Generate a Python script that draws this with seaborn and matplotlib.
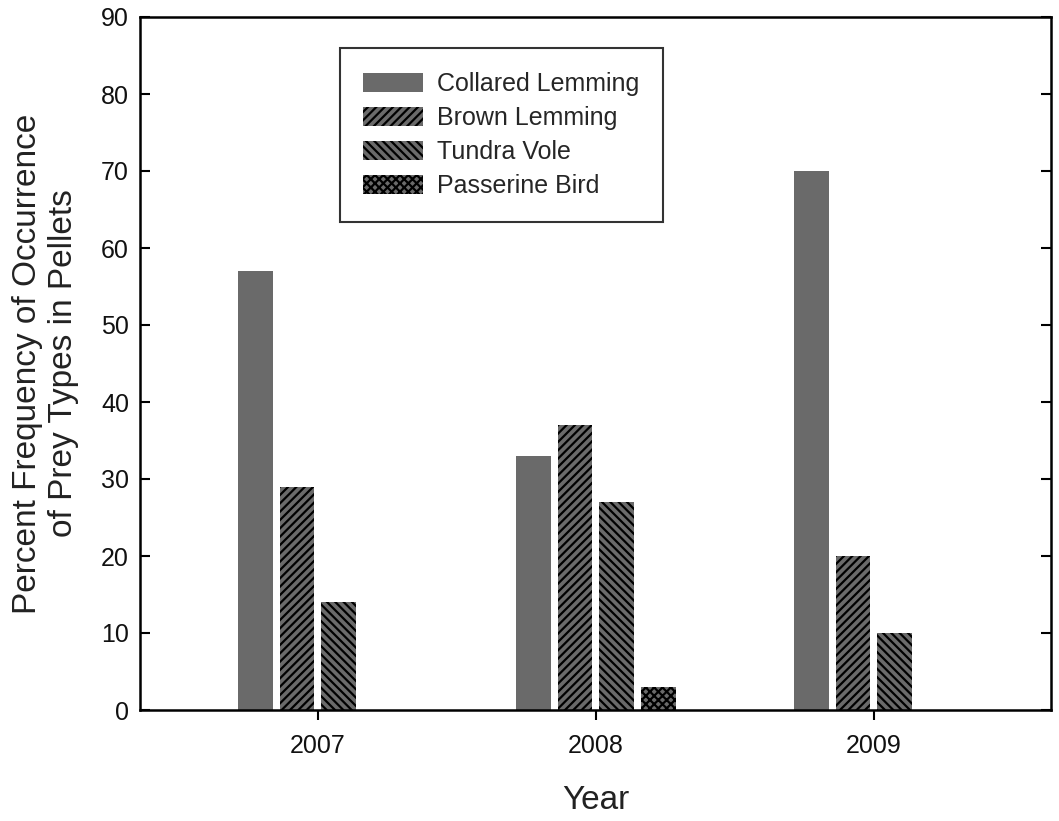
import pandas as pd
import numpy as np
import seaborn as sns
import matplotlib.pyplot as plt
from matplotlib.patches import Patch

years = ['2007', '2008', '2009']
prey = ['Collared Lemming', 'Brown Lemming', 'Tundra Vole', 'Passerine Bird']
collared = [57, 33, 70]
brown = [29, 37, 20]
tundra = [14, 27, 10]
passerine = [0, 3, 0]

df = pd.DataFrame({
    'Year': years * 4,
    'Prey': [p for p in prey for _ in years],
    'Percent': collared + brown + tundra + passerine,
})

sns.set_style('white')
plt.rcParams['font.family'] = ['Liberation Sans', 'DejaVu Sans']
plt.rcParams['hatch.linewidth'] = 1.6

fig = plt.figure(figsize=(10.59, 8.21), dpi=100)
ax = fig.add_axes([140 / 1059, 1 - 710 / 821, (1051 - 140) / 1059, (710 - 17) / 821])

grey = '#6a6a6a'
sns.barplot(data=df, x='Year', y='Percent', hue='Prey', hue_order=prey,
            palette=[grey] * 4, width=0.6, gap=0.17, saturation=1,
            errorbar=None, legend=False, ax=ax)

hatches = ['', '////', '\\\\\\\\', 'xxxx']
for cont, h in zip(ax.containers, hatches):
    for bar in cont:
        bar.set_hatch(h)
        bar.set_edgecolor('black' if h else grey)
        bar.set_linewidth(0)

ax.set_xlim(-0.64, 2.637)
ax.set_ylim(0, 90)
ax.set_yticks(range(0, 91, 10))

for s in ax.spines.values():
    s.set_color('black')
    s.set_linewidth(1.8)

ax.tick_params(axis='y', direction='in', length=7, width=1.5, labelsize=18,
               left=True, right=True, colors='black', pad=8)
ax.tick_params(axis='x', direction='out', length=7, width=1.5, labelsize=18,
               bottom=True, colors='black', pad=10)
for lab in ax.get_xticklabels() + ax.get_yticklabels():
    lab.set_color('#111111')

ax.set_xlabel('Year', fontsize=24, labelpad=20, color='#222222')
ax.set_ylabel('Percent Frequency of Occurrence\nof Prey Types in Pellets',
              fontsize=24, labelpad=16, color='#222222')

handles = [Patch(facecolor=grey, edgecolor='black' if h else grey,
                 hatch=h, linewidth=0, label=p) for p, h in zip(prey, hatches)]
leg = ax.legend(handles=handles, loc='upper left', bbox_to_anchor=(0.219, 0.955),
                fontsize=18, frameon=True, fancybox=False, edgecolor='black',
                handlelength=2.4, handleheight=0.8, borderpad=0.95,
                labelspacing=0.4, handletextpad=0.56, borderaxespad=0)
leg.get_frame().set_linewidth(1.5)

plt.savefig('out.png', dpi=100)
